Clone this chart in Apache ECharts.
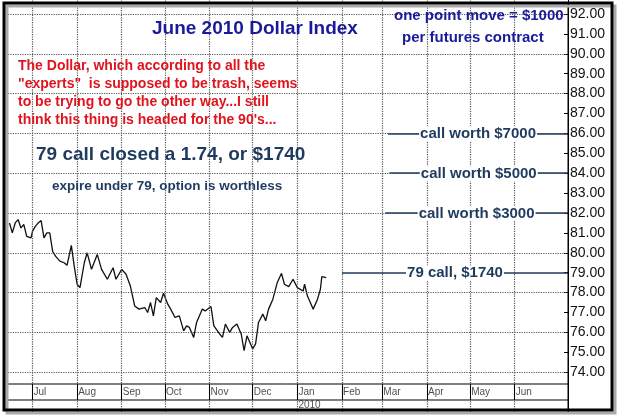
<!DOCTYPE html>
<html>
<head>
<meta charset="UTF-8">
<title>June 2010 Dollar Index</title>
<script src="https://cdn.jsdelivr.net/npm/echarts@6/dist/echarts.min.js"></script>
<style>body{margin:0;background:#fff;overflow:hidden}#main{position:absolute;left:0;top:-30px}</style>
</head>
<body>
<div id="main" style="width:618px;height:449px"></div>
<script>
var dates = ['2009-06-15','2009-06-17','2009-06-19','2009-06-21','2009-06-23','2009-06-25','2009-06-27','2009-06-30',
 '2009-07-01','2009-07-03','2009-07-05','2009-07-07','2009-07-09','2009-07-11','2009-07-13','2009-07-15','2009-07-17',
 '2009-07-20','2009-07-23','2009-07-25','2009-07-28','2009-07-30','2009-08-01','2009-08-03','2009-08-06','2009-08-08',
 '2009-08-11','2009-08-15','2009-08-18','2009-08-22','2009-08-26','2009-08-28','2009-09-01','2009-09-04','2009-09-07',
 '2009-09-10','2009-09-13','2009-09-17','2009-09-19','2009-09-21','2009-09-23','2009-09-25','2009-09-28','2009-09-30',
 '2009-10-03','2009-10-05','2009-10-08','2009-10-11','2009-10-14','2009-10-16','2009-10-18','2009-10-21','2009-10-23',
 '2009-10-27','2009-10-29','2009-11-02','2009-11-04','2009-11-08','2009-11-10','2009-11-12','2009-11-15','2009-11-17',
 '2009-11-20','2009-11-23','2009-11-25','2009-11-27','2009-12-01','2009-12-03','2009-12-05','2009-12-08','2009-12-10',
 '2009-12-12','2009-12-15','2009-12-18','2009-12-21','2009-12-23','2009-12-26','2009-12-29','2010-01-01','2010-01-05',
 '2010-01-06','2010-01-08','2010-01-10','2010-01-12','2010-01-15','2010-01-17','2010-01-18','2010-01-21'];
var prices = [81.5,81.0,81.5,81.67,81.25,81.42,80.83,80.75,
 81.08,81.33,81.5,81.62,80.75,81.0,81.0,80.08,79.83,
 79.58,79.5,79.37,80.37,79.33,78.42,78.25,79.5,80.0,
 79.17,79.92,79.17,78.67,79.25,78.67,79.17,78.92,78.33,
 77.33,77.17,77.25,77.0,77.5,76.83,77.75,77.5,77.97,
 77.42,77.17,76.75,76.83,76.08,76.33,76.25,75.75,76.5,
 77.17,77.08,77.3,76.33,75.92,75.75,76.42,76.0,76.25,
 76.42,75.92,75.08,75.83,75.17,75.42,76.5,76.92,76.58,
 77.17,77.67,78.5,78.97,78.42,78.3,78.67,78.25,78.08,
 78.42,77.83,77.5,77.17,77.67,78.17,78.8,78.75];
var monthStarts = ['2009-07-01','2009-08-01','2009-09-01','2009-10-01','2009-11-01','2009-12-01',
 '2010-01-01','2010-02-01','2010-03-01','2010-04-01','2010-05-01','2010-06-01'];
var monthNames = ['Jul','Aug','Sep','Oct','Nov','Dec','Jan','Feb','Mar','Apr','May','Jun'];
var gridValues = [74, 76, 78, 80, 82, 84, 86, 88, 90, 92];
var calls = [
 {y:86, from:'2010-03-05', text:'call worth $7000'},
 {y:84, from:'2010-03-06', text:'call worth $5000'},
 {y:82, from:'2010-03-03', text:'call worth $3000'},
 {y:79, from:'2010-02-01', text:'79 call, $1740'}
];
var redLines = ['The Dollar, which according to all the','"experts"  is supposed to be trash, seems',
 'to be trying to go the other way...I still','think this thing is headed for the 90\'s...'];

var xMin = '2009-06-14', xMax = '2010-07-08';
var navy = '#1f3a5f';
var OFF = 30; // the chart div is shifted up by this many pixels
var chart = echarts.init(document.getElementById('main'));

var txt = [];
redLines.forEach(function(s, i){
  txt.push({type:'text', left:18, top:59 + i*18 + OFF, z:10,
    style:{text:s, fill:'#e0141e', font:'bold 14px Arial'}});
});
txt.push({type:'text', left:152, top:19 + OFF, z:10, style:{text:'June 2010 Dollar Index', fill:'#1a1a9a', font:'bold 19px Arial'}});
txt.push({type:'text', left:394, top:8 + OFF, z:10, style:{text:'one point move = $1000', fill:'#1a1a9a', font:'bold 15px Arial'}});
txt.push({type:'text', left:402, top:30 + OFF, z:10, style:{text:'per futures contract', fill:'#1a1a9a', font:'bold 15px Arial'}});
txt.push({type:'text', left:36, top:145 + OFF, z:10, style:{text:'79 call closed a 1.74, or $1740', fill:navy, font:'bold 19px Arial'}});
txt.push({type:'text', left:52, top:179 + OFF, z:10, style:{text:'expire under 79, option is worthless', fill:navy, font:'bold 13.5px Arial'}});
// frame and bottom band
txt.push({type:'rect', shape:{x:7, y:385 + OFF, width:561, height:27}, z:5, style:{fill:'#fff', stroke:null}});
txt.push({type:'line', shape:{x1:7, y1:384 + OFF, x2:568, y2:384 + OFF}, z:6, style:{stroke:'#000', lineWidth:1}});
txt.push({type:'line', shape:{x1:7, y1:400 + OFF, x2:568, y2:400 + OFF}, z:6, style:{stroke:'#000', lineWidth:1}});
txt.push({type:'line', shape:{x1:568, y1:3 + OFF, x2:568, y2:412 + OFF}, z:6, style:{stroke:'#000', lineWidth:1}});
txt.push({type:'rect', shape:{x:7, y:6 + OFF, width:608, height:407}, z:8, style:{fill:null, stroke:'#aaa', lineWidth:3}});
txt.push({type:'rect', shape:{x:4, y:3 + OFF, width:608, height:407}, z:9, style:{fill:null, stroke:'#000', lineWidth:3}});

var bandLabel = {show:true, position:'right', distance:1, formatter:'{b}', color:'#222', fontFamily:'Arial', fontSize:10};
var dotted = {color:'#555', type:'dotted', width:1.2};

chart.setOption({
  animation:false,
  grid:[{left:8, right:50, top:14 + OFF - 2*19.9, height:22*19.9},
        {left:8, right:50, top:384 + OFF, height:32}],
  xAxis:[
    {type:'time', gridIndex:0, min:xMin, max:xMax, show:false},
    {type:'time', gridIndex:1, min:xMin, max:xMax, show:false}
  ],
  yAxis:[
    {type:'value', gridIndex:0, position:'right', min:72, max:94, interval:1,
     axisLine:{show:true, lineStyle:{color:'#000'}}, axisTick:{show:true, length:4, inside:true, lineStyle:{color:'#000'}},
     splitLine:{show:false},
     axisLabel:{margin:2, color:'#111', fontFamily:'Arial', fontSize:14,
       formatter:function(v){ return (v < 74 || v > 92) ? '' : v.toFixed(2); }}},
    {type:'value', gridIndex:1, min:-1, max:1, show:false}
  ],
  graphic: txt,
  series:[
    {type:'line', xAxisIndex:0, yAxisIndex:0, data:[], z:1,
     markLine:{symbol:'none', silent:true, label:{show:false}, lineStyle:dotted,
       data: monthStarts.map(function(d){ return [{coord:[d, 72]}, {coord:[d, 94]}]; })
         .concat(gridValues.map(function(v){ return [{coord:[xMin, v]}, {coord:[xMax, v]}]; }))}},
    {type:'line', xAxisIndex:0, yAxisIndex:0, symbol:'none', z:3,
     lineStyle:{color:'#111', width:1.3},
     data: dates.map(function(d, i){ return [d, prices[i]]; })},
    {type:'line', xAxisIndex:0, yAxisIndex:0, data:[], z:4,
     markLine:{symbol:'none', silent:true,
       lineStyle:{color:navy, type:'solid', width:1.5},
       label:{show:true, position:'middle', formatter:'{b}', color:navy, fontWeight:'bold',
         fontFamily:'Arial', fontSize:15, backgroundColor:'#fff', padding:[0,1], distance:-8},
       data: calls.map(function(c){ return [{name:c.text, coord:[c.from, c.y]}, {coord:[xMax, c.y]}]; })}},
    {type:'scatter', xAxisIndex:1, yAxisIndex:1, symbolSize:0.1, z:12, itemStyle:{color:'#fff'},
     label:bandLabel,
     data: monthStarts.map(function(d, i){ return {name:monthNames[i], value:[d, 0.5]}; }),
     markLine:{symbol:'none', silent:true, label:{show:false}, lineStyle:{color:'#000', type:'solid', width:1},
       data: monthStarts.map(function(d){ return [{coord:[d, 0]}, {coord:[d, 1]}]; })}},
    {type:'scatter', xAxisIndex:1, yAxisIndex:1, symbolSize:0.1, z:12, itemStyle:{color:'#fff'},
     label:bandLabel,
     data:[{name:'2010', value:['2010-01-01', -0.35]}]}
  ]
});
</script>
</body>
</html>
